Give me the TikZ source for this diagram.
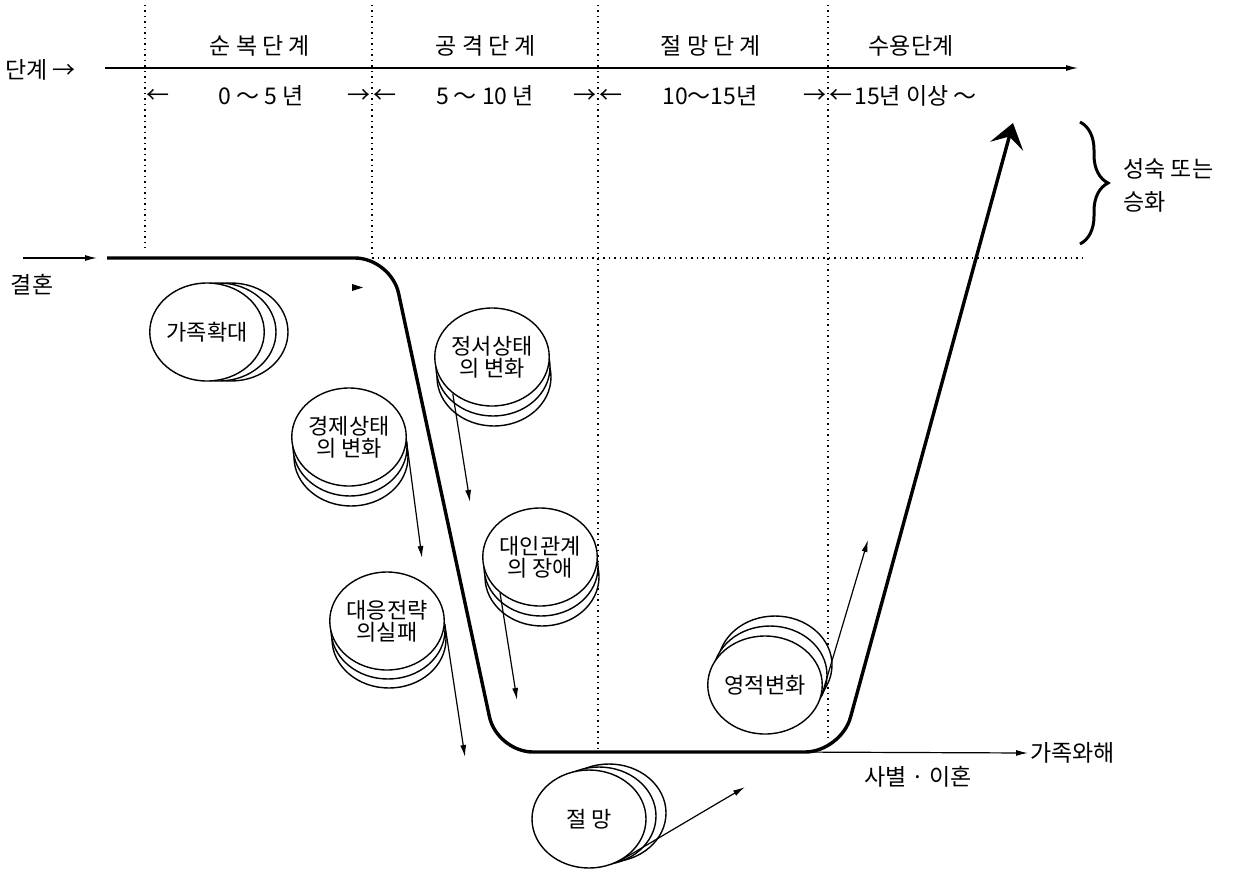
\documentclass[tikz,border=0pt]{standalone}
\usepackage{fontspec}
\setmainfont{Noto Sans CJK KR}
\usetikzlibrary{arrows.meta,shapes.geometric,decorations.pathreplacing}
\def\stackdisc#1(#2,#3)(#4,#5)#6{%
  \draw[disc] ({#2+2*(#4)},{#3+2*(#5)}) ellipse (28.5pt and 24.5pt);
  \draw[disc] ({#2+#4},{#3+#5}) ellipse (28.5pt and 24.5pt);
  \node[discnode] (#1) at (#2,#3) {#6};}
\tikzset{
  disc/.style={draw, line width=0.7pt, fill=white},
  discnode/.style={disc, ellipse, minimum width=57pt, minimum height=49pt, inner sep=0pt, align=center, font=\fontsize{11}{11}\selectfont},
  guide/.style={dotted, line width=0.75pt},
  txt/.style={inner sep=1pt, font=\fontsize{11.5}{16.5}\selectfont},
  thinarrow/.style={line width=0.6pt, -{Latex[length=6pt,width=3pt]}},
  mainline/.style={line width=1.7pt, rounded corners=18pt, -{Stealth[length=12pt,width=17pt,inset=5pt]}},
}

\begin{document}
\begin{tikzpicture}[x=0.5pt,y=-0.5pt]
	%%%%% START %%%%%
	\useasboundingbox (0,0) rectangle (1235,872);
	
	% stage borders
	\foreach \bx/\by in {145/248, 372/258, 598/752, 828/739}
		\draw[guide] (\bx,5) -- (\bx,\by);
	\draw[guide] (372,258) -- (1085,258);
	
	% stage axis
	\node[txt, anchor=west] (axis) at (3,70) {단계 →};
	\coordinate (axisend) at (1078,68);
	\draw[thinarrow] (105,68) -- (axisend);
	
	\node[txt] (s1) at (260,46) {순 복 단 계};
	\node[txt] (s2) at (486,46) {공 격 단 계};
	\node[txt] (s3) at (711,46) {절 망 단 계};
	\node[txt] (s4) at (911,46) {수용단계};
	
	\node[txt] (y1) at (261,96) {0 ～ 5 년};
	\node[txt] (y2) at (485,96) {5 ～ 10 년};
	\node[txt] (y3) at (710,96) {10～15년};
	\node[txt, anchor=west] (y4) at (852,96) {15년 이상 ～};
	\foreach \bx in {145,372,598,828}
		\node[txt] (l\bx) at (\bx+13,96) {←};
	\foreach \bx in {372,598,828}
		\node[txt] (r\bx) at (\bx-13,96) {→};
	
	% marriage
	\node[txt] (wed) at (32,285) {결혼};
	\coordinate (wedin) at (23,258);
	\coordinate (wedout) at (97,258);
	\draw[thinarrow] (wedin) -- (wedout);
	
	% main course
	\draw[mainline] (107,258) -- (391,258) -- (497,752) -- (841,752) -- (1013,123);
	\fill (352,284) -- (363,287.5) -- (352,291) -- cycle;
	
	\coordinate (split) at (790,752);
	\node[txt, anchor=west] (breakup) at (1028,753) {가족와해};
	\draw[thinarrow] (split) -- (breakup.west);
	\node[txt] (loss) at (918,777) {사별 · 이혼};
	
	\draw[line width=1.5pt, decorate, decoration={brace, amplitude=14pt}] (1080,122) -- (1080,244);
	\node[txt, anchor=west, align=left] (grow) at (1121,185) {성숙 또는\\승화};
	
	% discs
	\stackdisc{family}(207,332)(12,0){가족확대}
	\stackdisc{econ}(349,437)(1,10){경제상태\\의 변화}
	\stackdisc{cope}(387,621)(1,9){대응전략\\의실패}
	\stackdisc{mood}(492,357)(1,10){정서상태\\의 변화}
	\stackdisc{rel}(540,557)(1,10){대인관계\\의 장애}
	\stackdisc{despair}(589,819)(10,-3){절 망}
	\stackdisc{spirit}(765,685)(5,-10){영적변화}
	
	\coordinate (econend) at (422,558);
	\coordinate (copeend) at (465,757);
	\coordinate (moodend) at (470,502);
	\coordinate (relend) at (517,700);
	\coordinate (despairend) at (745,787);
	\coordinate (spiritend) at (868,540);
	\draw[thinarrow] (econ.-5) -- (econend);
	\draw[thinarrow] (cope.-3) -- (copeend);
	\draw[thinarrow] (mood.-137) -- (moodend);
	\draw[thinarrow] (rel.-138) -- (relend);
	\draw[thinarrow] (despair.-56) -- (despairend);
	\draw[thinarrow] (spirit.-11) -- (spiritend);
	
	%%%%% END %%%%%
\end{tikzpicture}
\end{document}
